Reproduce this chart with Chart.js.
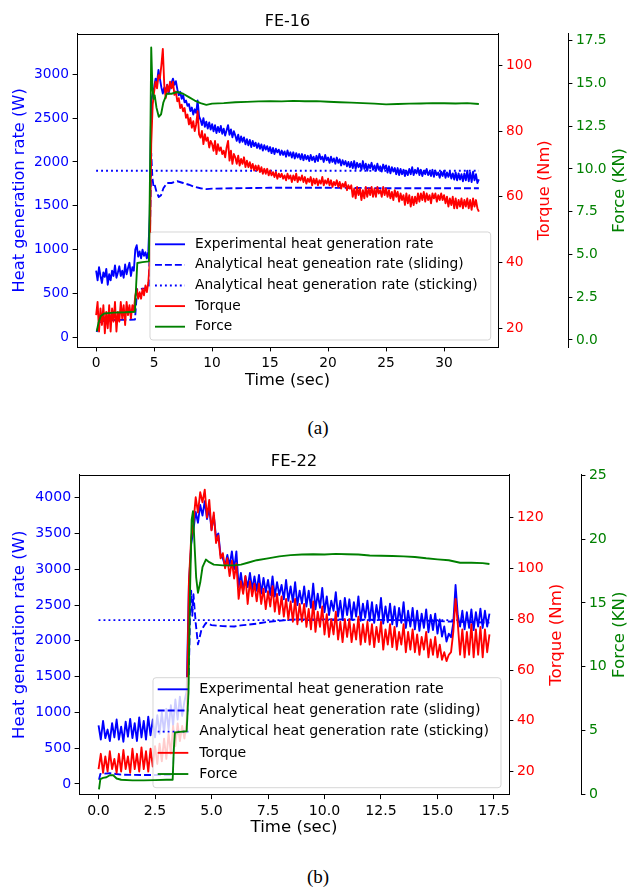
<!DOCTYPE html>
<html><head><meta charset="utf-8">
<script src="https://cdn.jsdelivr.net/npm/chart.js@4.4.1/dist/chart.umd.min.js"></script>
<style>
html,body{margin:0;padding:0;background:#fff;}
body{width:628px;height:887px;position:relative;overflow:hidden;}
canvas{position:absolute;left:0;}
#c16{top:0;} #c22{top:441px;}
.cap{position:absolute;left:4px;width:628px;text-align:center;font-family:"Liberation Serif","Times New Roman",serif;font-size:19px;color:#000;line-height:19px;}
#capA{top:418px;} #capB{top:867px;}
</style></head><body>
<canvas id="c16" width="628" height="400"></canvas>
<canvas id="c22" width="628" height="400"></canvas>
<div class="cap" id="capA">(a)</div>
<div class="cap" id="capB">(b)</div>
<script>
// ================= FE-16 (a) =================
const title16 = 'FE-16';
const labels16 = ['Experimental heat generation rate','Analytical heat geneation rate (sliding)','Analytical heat generation rate (sticking)','Torque','Force'];
const t16 = [0,0.125,0.25,0.375,0.5,0.625,0.75,0.875,
 1,1.125,1.25,1.375,1.5,1.625,1.75,1.875,
 2,2.125,2.25,2.375,2.5,2.625,2.75,2.875,
 3,3.125,3.25,3.375,3.5,3.625,3.75,3.875,
 4,4.125,4.25,4.375,4.5,4.625,4.75,4.875,
 5,5.125,5.25,5.375,5.5,5.625,5.75,5.875,
 6,6.125,6.25,6.375,6.5,6.625,6.75,6.875,
 7,7.125,7.25,7.375,7.5,7.625,7.75,7.875,
 8,8.125,8.25,8.375,8.5,8.625,8.75,8.875,
 9,9.125,9.25,9.375,9.5,9.625,9.75,9.875,
 10,10.125,10.25,10.375,10.5,10.625,10.75,10.875,
 11,11.125,11.25,11.375,11.5,11.625,11.75,11.875,
 12,12.125,12.25,12.375,12.5,12.625,12.75,12.875,
 13,13.125,13.25,13.375,13.5,13.625,13.75,13.875,
 14,14.125,14.25,14.375,14.5,14.625,14.75,14.875,
 15,15.125,15.25,15.375,15.5,15.625,15.75,15.875,
 16,16.125,16.25,16.375,16.5,16.625,16.75,16.875,
 17,17.125,17.25,17.375,17.5,17.625,17.75,17.875,
 18,18.125,18.25,18.375,18.5,18.625,18.75,18.875,
 19,19.125,19.25,19.375,19.5,19.625,19.75,19.875,
 20,20.125,20.25,20.375,20.5,20.625,20.75,20.875,
 21,21.125,21.25,21.375,21.5,21.625,21.75,21.875,
 22,22.125,22.25,22.375,22.5,22.625,22.75,22.875,
 23,23.125,23.25,23.375,23.5,23.625,23.75,23.875,
 24,24.125,24.25,24.375,24.5,24.625,24.75,24.875,
 25,25.125,25.25,25.375,25.5,25.625,25.75,25.875,
 26,26.125,26.25,26.375,26.5,26.625,26.75,26.875,
 27,27.125,27.25,27.375,27.5,27.625,27.75,27.875,
 28,28.125,28.25,28.375,28.5,28.625,28.75,28.875,
 29,29.125,29.25,29.375,29.5,29.625,29.75,29.875,
 30,30.125,30.25,30.375,30.5,30.625,30.75,30.875,
 31,31.125,31.25,31.375,31.5,31.625,31.75,31.875,
 32,32.125,32.25,32.375,32.5,32.625,32.75,32.875,
 33];
const heat16 = [760,650,800,700,620,740,690,780,
 600,720,650,760,700,820,680,740,
 810,700,760,680,830,720,790,850,
 700,800,760,1000,1050,920,980,900,
 1000,930,970,900,980,1400,2700,2780,
 2850,2950,2900,3050,2950,2850,2780,2850,
 2800,2880,2780,2850,2900,2950,2880,2920,
 2830,2760,2800,2720,2760,2680,2700,2640,
 2660,2580,2620,2540,2600,2560,2700,2520,
 2480,2420,2500,2400,2460,2380,2450,2370,
 2430,2350,2420,2330,2400,2340,2410,2320,
 2380,2300,2360,2420,2310,2370,2280,2350,
 2300,2240,2310,2220,2290,2230,2280,2200,
 2260,2190,2250,2170,2240,2180,2220,2160,
 2210,2150,2200,2130,2190,2140,2180,2120,
 2170,2100,2160,2090,2150,2110,2140,2080,
 2130,2080,2120,2060,2130,2070,2110,2050,
 2110,2040,2100,2050,2090,2030,2090,2020,
 2080,2030,2070,2010,2080,2020,2060,2000,
 2070,2010,2090,2030,2060,2000,2080,2020,
 2050,1990,2060,2000,2040,1980,2050,1990,
 2030,1960,2020,1970,2010,1950,2000,1940,
 2000,1930,2010,1920,1990,1940,1980,1910,
 2010,1920,1980,1900,1970,1930,1990,1910,
 1960,1900,1980,1910,1950,1890,1970,1920,
 1960,1880,1950,1870,1940,1890,1930,1860,
 1930,1850,1920,1860,1910,1840,1900,1850,
 1920,1860,1940,1850,1910,1870,1930,1850,
 1910,1840,1900,1860,1920,1850,1890,1840,
 1910,1830,1900,1850,1880,1820,1890,1840,
 1900,1820,1880,1830,1890,1810,1870,1800,
 1880,1790,1870,1800,1860,1780,1870,1790,
 1900,1780,1880,1770,1890,1790,1860,1760,
 1800];
const torque16 = [24,28,19,26,21,27,18.5,25,
 20,27,19,26,22,28,19,25,
 22,28,23,27,21,28,24,27,
 23,27,25,30,32,29,31,29,
 32,30,33,31,34,40,76,88,
 92,95,93,97,96,100,105,94,
 90,94,92,95,93,95,91,92,
 89,90,87,88,86,87,84,85,
 82,84,81,83,80,82,86,79,
 78,80,76,79,77,78,75,77,
 76,74,77,73,76,74,75,73,
 74,72,75,77,71,74,70,73,
 72,70,72.5,69.5,71.5,70,72,69,
 71,69,70.5,68.5,70,68,69.5,68,
 69.5,67.5,69,67,68.5,67,68.5,66.5,
 68,66.5,67.5,66,67.5,65.5,67,66,
 67,65.5,66.5,65,67,65.5,66.5,64.5,
 66.5,65,67,64.5,66,65,66.5,64.5,
 66,64,65.5,64.5,66,63.5,65.5,64,
 65.5,63.5,65,64,66,63.5,65,64,
 65.5,63.5,65,63,64.5,63.5,65,63,
 64.5,62.5,64,63,64.5,62,63.5,62.5,
 63.5,60,62.5,59.5,63,60.5,62.5,59,
 62,59.5,63,60,62.5,60.5,63,60,
 62.5,60,63,61,62,60,63,60.5,
 62.5,60,62,59.5,61.5,59,62,60,
 61.5,58.5,61,59,60.5,57.5,61,58,
 60.5,57,60,57.5,60,58,61,58.5,
 61,59,61.5,58.5,61,59,60.5,58,
 61,59.5,61,58.5,60.5,59,61,59,
 60.5,58,60,57,59.5,57.5,60,56.5,
 59.5,56.5,59,57,59.5,56.5,59,57,
 59.5,56.5,59,56,59.5,57,59,56.5,
 55.5];
const tForce16 = [0.05,0.2,0.4,0.7,1.5,2.5,3.35,3.45,3.55,4.0,4.55,4.65,4.75,4.85,4.95,5.05,5.2,5.4,5.6,5.8,6.1,6.5,7.0,7.5,8.0,8.5,9.0,9.5,10,11,12,13,14,15,16,17,18,19,20,21,22,23,24,25,26,27,28,29,30,31,32,33];
const force16 = [0.5,1.0,1.4,1.55,1.6,1.62,1.65,3.2,4.5,4.55,4.6,10,17.1,14.8,14.1,14.3,13.6,13.05,13.2,13.9,14.4,14.4,14.5,14.4,14.2,14.0,13.85,13.75,13.82,13.85,13.9,13.92,13.95,13.97,13.95,13.98,13.96,13.97,13.93,13.9,13.88,13.85,13.82,13.78,13.8,13.82,13.83,13.85,13.84,13.83,13.85,13.8];
const tSlide16 = [0.05,0.2,0.4,0.7,1.5,2.5,3.35,3.45,3.55,4.0,4.55,4.65,4.75,4.85,4.95,5.05,5.2,5.4,5.6,5.8,6.1,6.5,7.0,7.5,8.0,8.5,9.0,9.5,10,12,15,20,25,30,33];
const slide16 = [60,125,175,190,198,200,203,390,550,555,560,1250,2100,1820,1720,1740,1660,1600,1620,1700,1760,1760,1780,1760,1740,1715,1700,1690,1695,1700,1705,1705,1700,1700,1700];
const tStick16 = [0,33];
const stick16 = [1900,1900];
const xTicks16 = [0,5,10,15,20,25,30];
const xTickLabels16 = ['0','5','10','15','20','25','30'];
const heatTicks16 = [0,500,1000,1500,2000,2500,3000];
const heatTickLabels16 = ['0','500','1000','1500','2000','2500','3000'];
const torqueTicks16 = [20,40,60,80,100];
const torqueTickLabels16 = ['20','40','60','80','100'];
const forceTicks16 = [0,2.5,5,7.5,10,12.5,15,17.5];
const forceTickLabels16 = ['0.0','2.5','5.0','7.5','10.0','12.5','15.0','17.5'];

// ================= FE-22 (b) =================
const title22 = 'FE-22';
const labels22 = ['Experimental heat generation rate','Analytical heat generation rate (sliding)','Analytical heat generation rate (sticking)','Torque','Force'];
const t22 = [0,0.1,0.2,0.3,0.4,0.5,0.6,0.7,0.8,0.9,
 1,1.1,1.2,1.3,1.4,1.5,1.6,1.7,1.8,1.9,
 2,2.1,2.2,2.3,2.4,2.5,2.6,2.7,2.8,2.9,
 3,3.1,3.2,3.3,3.4,3.5,3.6,3.7,3.8,3.9,
 4,4.1,4.2,4.3,4.4,4.5,4.6,4.7,4.8,4.9,
 5,5.1,5.2,5.3,5.4,5.5,5.6,5.7,5.8,5.9,
 6,6.1,6.2,6.3,6.4,6.5,6.6,6.7,6.8,6.9,
 7,7.1,7.2,7.3,7.4,7.5,7.6,7.7,7.8,7.9,
 8,8.1,8.2,8.3,8.4,8.5,8.6,8.7,8.8,8.9,
 9,9.1,9.2,9.3,9.4,9.5,9.6,9.7,9.8,9.9,
 10,10.1,10.2,10.3,10.4,10.5,10.6,10.7,10.8,10.9,
 11,11.1,11.2,11.3,11.4,11.5,11.6,11.7,11.8,11.9,
 12,12.1,12.2,12.3,12.4,12.5,12.6,12.7,12.8,12.9,
 13,13.1,13.2,13.3,13.4,13.5,13.6,13.7,13.8,13.9,
 14,14.1,14.2,14.3,14.4,14.5,14.6,14.7,14.8,14.9,
 15,15.1,15.2,15.3,15.4,15.5,15.6,15.7,15.8,15.9,
 16,16.1,16.2,16.3,16.4,16.5,16.6,16.7,16.8,16.9,
 17,17.1,17.2,17.3];
const heat22 = [820,620,880,640,760,600,850,650,900,620,
 800,590,870,660,910,640,850,600,930,650,
 880,620,940,680,900,650,960,700,1000,720,
 1050,760,1100,820,1180,900,1220,950,1150,1300,
 2800,3350,3550,3800,3650,3900,3750,3950,3700,3850,
 3550,3750,3450,3500,3200,3150,3050,3200,3050,3250,
 3000,3250,2750,2950,2700,2900,2750,2950,2720,2900,
 2700,2920,2660,2880,2680,2850,2640,2900,2620,2820,
 2640,2780,2580,2850,2560,2760,2540,2820,2500,2700,
 2520,2760,2480,2700,2460,2800,2440,2660,2460,2740,
 2400,2620,2360,2560,2420,2680,2340,2560,2300,2600,
 2360,2580,2300,2540,2340,2620,2280,2520,2320,2560,
 2280,2540,2250,2500,2300,2600,2240,2480,2260,2520,
 2230,2480,2200,2460,2250,2540,2180,2420,2200,2460,
 2160,2420,2140,2380,2180,2440,2120,2360,2150,2380,
 2100,2300,2060,2200,1990,2100,2050,2250,2780,2350,
 2200,2420,2160,2400,2180,2440,2150,2400,2200,2450,
 2180,2420,2200,2380];
const torque22 = [21,27,19.5,26,20,28,21,25,19.5,27,
 20,28.5,21,26,19.5,29,21,27,20,29.5,
 21,28,20,29,22,30,23,31,24,33,
 25,35,27,38,30,39,32,38,33,40,
 95,112,118,128,122,130,126,131,120,127,
 115,122,110,113,104,106,100,104,97,103,
 96,102,88,95,90,97,86,95,89,94,
 87,94,86,92,84,91,85,93,83,90,
 82,89,81,88,80,87,79,88,78,86,
 79,86,77,84,76,87,75,83,77,85,
 74,82,73,80,74,83,72,79,71,80,
 73,80,71,78,72,81,70,78,71,79,
 70,78,69,77,71,79,68,76,70,78,
 69,77,68,75,70,78,67,75,68,76,
 67,74,66,73,68,75,65,72,66,73,
 65,70,64,67,63.5,66,67,75,88,78,
 66,76,65,75,66,78,65,76,66,77,
 65,76,67,74];
const tForce22 = [0.02,0.08,0.2,0.35,0.5,0.65,0.8,1.0,1.5,2.0,2.5,3.0,3.28,3.33,3.38,3.6,3.9,3.98,4.05,4.12,4.18,4.25,4.32,4.4,4.5,4.6,4.75,4.9,5.1,5.5,6.0,6.3,6.6,7.0,7.5,8.0,8.5,9.0,9.5,10,10.5,11,11.5,12,12.5,13,13.5,14,14.5,15,15.5,16,16.5,17,17.3];
const force22 = [0.4,1.2,1.3,1.35,1.5,1.5,1.25,1.15,1.1,1.1,1.12,1.15,1.15,3.5,4.85,4.9,4.95,8,16,21.5,22.2,19.5,17.0,15.8,16.6,17.8,18.4,18.2,18.0,17.95,17.95,18.0,18.15,18.35,18.5,18.65,18.75,18.8,18.82,18.8,18.85,18.82,18.8,18.72,18.7,18.68,18.65,18.6,18.5,18.42,18.35,18.15,18.15,18.12,18.05];
const tSlide22 = [0.02,0.08,0.5,1.0,2.0,3.28,3.33,3.38,3.9,3.98,4.05,4.1,4.15,4.2,4.3,4.4,4.55,4.75,5.0,5.5,6.0,6.3,7.0,7.5,8.0,8.5,9.0,10,12,14,15,16,17.3];
const slide22 = [60,140,150,130,125,125,450,700,720,1300,2400,2700,2350,2650,2250,1950,2150,2250,2220,2205,2200,2215,2240,2265,2280,2295,2300,2300,2295,2285,2275,2265,2255];
const tStick22 = [0,17.3];
const stick22 = [2290,2290];
const xTicks22 = [0,2.5,5,7.5,10,12.5,15,17.5];
const xTickLabels22 = ['0.0','2.5','5.0','7.5','10.0','12.5','15.0','17.5'];
const heatTicks22 = [0,500,1000,1500,2000,2500,3000,3500,4000];
const heatTickLabels22 = ['0','500','1000','1500','2000','2500','3000','3500','4000'];
const torqueTicks22 = [20,40,60,80,100,120];
const torqueTickLabels22 = ['20','40','60','80','100','120'];
const forceTicks22 = [0,5,10,15,20,25];
const forceTickLabels22 = ['0','5','10','15','20','25'];

// ================= rendering =================
Chart.defaults.font.family = "'DejaVu Sans', sans-serif";
Chart.defaults.color = '#000';
const BLUE = '#0000ff', RED = '#ff0000', GREEN = '#008000';
const pts = (xs, ys) => xs.map((x, i) => ({x: x, y: ys[i]}));

const topSpine = {
  id: 'topSpine',
  afterDraw(chart) {
    const {ctx, chartArea: a} = chart;
    ctx.save(); ctx.strokeStyle = '#000'; ctx.lineWidth = 1;
    const y = Math.round(a.top) + 0.5;
    ctx.beginPath(); ctx.moveTo(Math.round(a.left), y); ctx.lineTo(Math.round(a.right) + 1, y); ctx.stroke();
    ctx.restore();
  }
};
const sideTitles = {
  id: 'sideTitles',
  afterDraw(chart, args, o) {
    const ctx = chart.ctx, a = chart.chartArea;
    (o.items || []).forEach(it => {
      const t = chart.scales[it.scale].options.title;
      ctx.save();
      ctx.translate(it.x, (a.top + a.bottom) / 2);
      ctx.rotate(-Math.PI / 2);
      ctx.font = o.size + "px 'DejaVu Sans'";
      ctx.fillStyle = t.color; ctx.textAlign = 'center'; ctx.textBaseline = 'middle';
      ctx.fillText(t.text, 0, 0);
      ctx.restore();
    });
  }
};
function drawLegend(chart, o) {
  const ctx = chart.ctx;
  ctx.save();
  const r = 3, x = o.x, y = o.y, w = o.w, h = o.h;
  ctx.beginPath();
  ctx.moveTo(x + r, y); ctx.lineTo(x + w - r, y); ctx.arcTo(x + w, y, x + w, y + r, r);
  ctx.lineTo(x + w, y + h - r); ctx.arcTo(x + w, y + h, x + w - r, y + h, r);
  ctx.lineTo(x + r, y + h); ctx.arcTo(x, y + h, x, y + h - r, r);
  ctx.lineTo(x, y + r); ctx.arcTo(x, y, x + r, y, r); ctx.closePath();
  ctx.fillStyle = 'rgba(255,255,255,0.8)'; ctx.fill();
  ctx.strokeStyle = 'rgba(204,204,204,0.8)'; ctx.lineWidth = 1; ctx.stroke();
  chart.data.datasets.forEach((ds, i) => {
    const yy = o.row0 + i * o.gap;
    ctx.beginPath(); ctx.setLineDash(ds.borderDash || []);
    ctx.strokeStyle = ds.borderColor; ctx.lineWidth = ds.borderWidth; ctx.lineCap = 'butt';
    ctx.moveTo(o.hx0, yy); ctx.lineTo(o.hx1, yy); ctx.stroke();
    ctx.setLineDash([]);
    ctx.fillStyle = '#000'; ctx.font = o.size + "px 'DejaVu Sans'";
    ctx.textAlign = 'left'; ctx.textBaseline = 'middle';
    ctx.fillText(ds.label, o.tx, yy);
  });
  ctx.restore();
}
const boxLegend = {
  id: 'boxLegend',
  beforeDatasetDraw(chart, args, o) { if (args.index === o.beforeIndex) drawLegend(chart, o); }
};

function axisTicks(vals, labs, color, size) {
  return {
    afterBuildTicks: s => { s.ticks = vals.map(v => ({value: v})); },
    ticks: {color: color, autoSkip: false, maxRotation: 0, padding: 3.5, font: {size: size},
            callback: (v, i) => labs[i]},
    grid: {display: true, drawOnChartArea: false, drawTicks: true, tickLength: 4.4, tickColor: '#000', tickWidth: 1},
    border: {display: true, color: '#000', width: 1}
  };
}

function makeChart(id, d, g) {
  const lw = g.lw;
  const base = {pointRadius: 0, pointHoverRadius: 0, fill: false, tension: 0, borderWidth: lw,
                borderJoinStyle: 'round', borderCapStyle: 'butt'};
  const datasets = [
    Object.assign({label: d.labels[0], data: pts(d.t, d.heat), yAxisID: 'yH', borderColor: BLUE, order: 5}, base),
    Object.assign({label: d.labels[1], data: pts(d.tS, d.slide), yAxisID: 'yH', borderColor: BLUE, borderDash: [lw * 3.7, lw * 1.6], order: 4}, base),
    Object.assign({label: d.labels[2], data: pts(d.tK, d.stick), yAxisID: 'yH', borderColor: BLUE, borderDash: [lw, lw * 1.65], order: 3}, base),
    Object.assign({label: d.labels[3], data: pts(d.t, d.torque), yAxisID: 'yT', borderColor: RED, order: 2}, base),
    Object.assign({label: d.labels[4], data: pts(d.tF, d.force), yAxisID: 'yF', borderColor: GREEN, order: 1}, base)
  ];
  return new Chart(document.getElementById(id), {
    type: 'line',
    data: {datasets: datasets},
    plugins: [topSpine, sideTitles, boxLegend],
    options: {
      responsive: false, maintainAspectRatio: false, animation: false, devicePixelRatio: 1,
      layout: {padding: 0},
      plugins: {
        legend: {display: false}, tooltip: {enabled: false},
        title: {display: true, text: d.title, fullSize: false, color: '#000',
                font: {size: g.ft, weight: 'normal', lineHeight: 1.2}, padding: {top: g.tpt, bottom: g.tpb}},
        sideTitles: {size: g.fl, items: [{scale: 'yT', x: g.torqueTitleX}, {scale: 'yF', x: g.forceTitleX}]},
        boxLegend: Object.assign({beforeIndex: 4, size: g.fs}, g.legend)
      },
      scales: {
        x: Object.assign(axisTicks(d.xTicks, d.xTickLabels, '#000', g.fs), {
          type: 'linear', position: 'bottom', bounds: 'data', min: g.xr[0], max: g.xr[1],
          title: {display: true, text: 'Time (sec)', color: '#000', font: {size: g.fl, lineHeight: 1.2}, padding: {top: 0, bottom: g.xtpb}},
          afterFit: s => { s.height = g.H - g.plotBottom; }
        }),
        yH: Object.assign(axisTicks(d.heatTicks, d.heatTickLabels, BLUE, g.fs), {
          type: 'linear', position: 'left', bounds: 'data', min: g.hr[0], max: g.hr[1],
          title: {display: true, text: 'Heat generation rate (W)', color: BLUE, font: {size: g.fl, lineHeight: 1.2}, padding: {top: g.ytpt, bottom: 0}},
          afterFit: s => { s.width = g.plotLeft; }
        }),
        yT: Object.assign(axisTicks(d.torqueTicks, d.torqueTickLabels, RED, g.fs), {
          type: 'linear', position: 'right', weight: 0, bounds: 'data', min: g.tr[0], max: g.tr[1],
          title: {display: false, text: 'Torque (Nm)', color: RED},
          afterFit: s => { s.width = g.torqueW; }
        }),
        yF: Object.assign(axisTicks(d.forceTicks, d.forceTickLabels, GREEN, g.fs), {
          type: 'linear', position: 'right', weight: 1, bounds: 'data', min: g.fr[0], max: g.fr[1],
          title: {display: false, text: 'Force (KN)', color: GREEN},
          afterFit: s => { s.width = g.forceW; }
        })
      }
    }
  });
}

makeChart('c16', {
  title: title16, labels: labels16, t: t16, heat: heat16, torque: torque16,
  tF: tForce16, force: force16, tS: tSlide16, slide: slide16, tK: tStick16, stick: stick16,
  xTicks: xTicks16, xTickLabels: xTickLabels16, heatTicks: heatTicks16, heatTickLabels: heatTickLabels16,
  torqueTicks: torqueTicks16, torqueTickLabels: torqueTickLabels16, forceTicks: forceTicks16, forceTickLabels: forceTickLabels16
}, {
  H: 400, plotLeft: 77, plotBottom: 347, torqueW: 70, forceW: 60, lw: 1.875,
  ft: 16, tpt: 12, tpb: 2.5, fl: 16.25, fs: 13.75, ytpt: 10.25, xtpb: 9.25,
  torqueTitleX: 545, forceTitleX: 620,
  xr: [-1.65, 34.65], hr: [-110, 3462], tr: [14.3, 109.6], fr: [-0.41, 17.91],
  legend: {x: 150, y: 232, w: 340.7, h: 108, row0: 244.3, gap: 20.6, hx0: 155, hx1: 185, tx: 195}
});

makeChart('c22', {
  title: title22, labels: labels22, t: t22, heat: heat22, torque: torque22,
  tF: tForce22, force: force22, tS: tSlide22, slide: slide22, tK: tStick22, stick: stick22,
  xTicks: xTicks22, xTickLabels: xTickLabels22, heatTicks: heatTicks22, heatTickLabels: heatTickLabels22,
  torqueTicks: torqueTicks22, torqueTickLabels: torqueTickLabels22, forceTicks: forceTicks22, forceTickLabels: forceTickLabels22
}, {
  H: 400, plotLeft: 79, plotBottom: 353.7, torqueW: 72, forceW: 47, lw: 1.875,
  ft: 16.4, tpt: 11.16, tpb: 2.86, fl: 16.6, fs: 14.1, ytpt: 10.04, xtpb: 3.04,
  torqueTitleX: 556.7, forceTitleX: 620,
  xr: [-0.865, 18.165], hr: [-150, 4321], tr: [10.9, 136.9], fr: [-0.02, 25.05],
  legend: {x: 153, y: 236.7, w: 348, h: 110, row0: 248.3, gap: 21.18, hx0: 157.7, hx1: 188.3, tx: 199.3}
});
</script>
</body></html>
